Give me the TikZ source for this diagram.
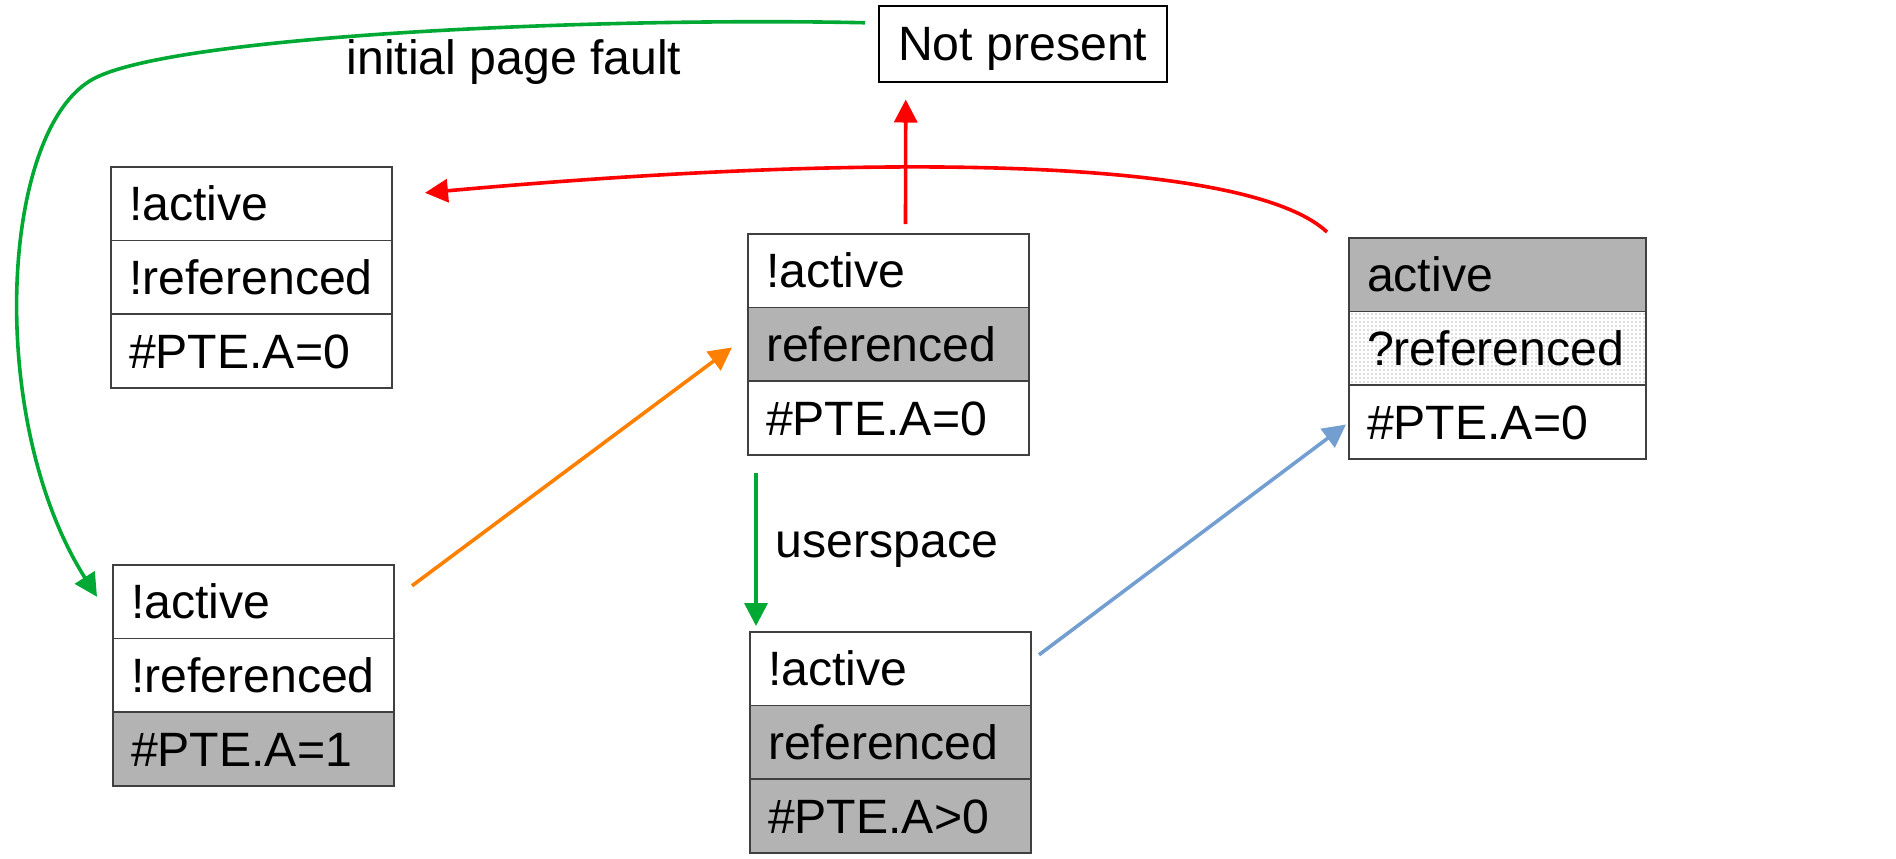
\documentclass[tikz,border=0pt]{standalone}
\usepackage{fontspec}
\setmainfont{Liberation Sans}
\usetikzlibrary{positioning,arrows.meta,patterns.meta}
\definecolor{lgreen}{HTML}{00A933}
\definecolor{lorange}{HTML}{FF8000}
\definecolor{lblue}{HTML}{729FCF}
\definecolor{cellgray}{HTML}{B3B3B3}
\tikzset{cell/.style={draw=black!75,line width=0.75pt,outer sep=0pt,text width=122.5pt,inner xsep=9pt,inner ysep=0pt,
                      minimum height=36.8pt,align=left,text height=17pt,text depth=0pt,font=\fontsize{24.1}{28}\selectfont},
         setcell/.style={fill=cellgray},
         maybecell/.style={pattern={Dots[distance=2pt,radius=0.35pt]},pattern color=black!55},
         flow/.style={line width=1.8pt,-{Triangle[length=11.5pt,width=11.5pt]}},
         lbl/.style={inner sep=0pt,text=black,font=\fontsize{24.1}{28}\selectfont}}

\begin{document}
\begin{tikzpicture}[x=0.5pt,y=-0.5pt]
                  \useasboundingbox (0,0) rectangle (1896,858);
                  \node[lbl,draw=black,line width=0.75pt,minimum width=144pt,minimum height=38pt,anchor=north west,
                        text height=17pt,text depth=0pt] (np) at (878,5) {Not present};
                  \node[cell,anchor=north west] (a1) at (111,167) {!active};
                  \node[cell,below=0pt of a1] (a2) {!referenced};
                  \node[cell,below=0pt of a2] (a3) {\#PTE.A=0};
                  \node[cell,anchor=north west] (b1) at (113,565) {!active};
                  \node[cell,below=0pt of b1] (b2) {!referenced};
                  \node[cell,setcell,below=0pt of b2] (b3) {\#PTE.A=1};
                  \node[cell,anchor=north west] (c1) at (748,234) {!active};
                  \node[cell,setcell,below=0pt of c1] (c2) {referenced};
                  \node[cell,below=0pt of c2] (c3) {\#PTE.A=0};
                  \node[cell,anchor=north west] (d1) at (750,632) {!active};
                  \node[cell,setcell,below=0pt of d1] (d2) {referenced};
                  \node[cell,setcell,below=0pt of d2] (d3) {\#PTE.A>0};
                  \node[cell,setcell,text width=130.5pt,anchor=north west] (e1) at (1349,238) {active};
                  \node[cell,maybecell,text width=130.5pt,below=0pt of e1] (e2) {?referenced};
                  \node[cell,text width=130.5pt,below=0pt of e2] (e3) {\#PTE.A=0};
                  \coordinate (bend) at (95,78);
                  \draw[flow,lgreen] ([shift={(-13,-21)}]np.west) .. controls (600,17) and (180,35) .. (bend)
                        .. controls (0,126) and (-15,420) .. ([shift={(-16,-5)}]b1.west);
                  \node[lbl] (fault) at (514,62) {initial page fault};
                  \draw[flow,red] ([shift={(-22,-6)}]e1.north west) .. controls (1250,160) and (900,150) .. ([shift={(33,-11)}]a1.east);
                  \draw[flow,red] ([shift={(17,-10)}]c1.north) -- ([shift={(-117,17)}]np.south);
                  \draw[flow,lgreen] ([shift={(8,18)}]c3.south west) -- node[lbl,right=9pt] {userspace} ([shift={(6,-6)}]d1.north west);
                  \draw[flow,lorange] ([shift={(18,-16)}]b1.east) -- ([shift={(-16,3)}]c2.west);
                  \draw[flow,lblue] ([shift={(8,-14)}]d1.east) -- ([shift={(-3,2.5)}]e3.west);
              \end{tikzpicture}
\end{document}
